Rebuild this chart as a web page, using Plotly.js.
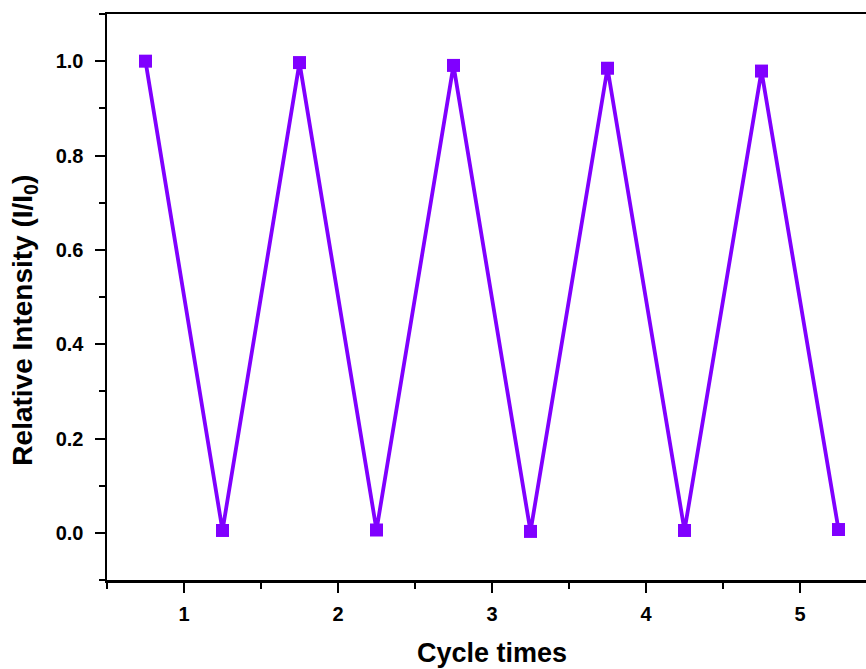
<!DOCTYPE html>
<html>
<head>
<meta charset="utf-8">
<script src="https://cdn.plot.ly/plotly-3.0.1.min.js"></script>
<style>
html,body{margin:0;padding:0;overflow:hidden;background:#fff;}
#chart{width:877px;height:669px;}
</style>
</head>
<body>
<div id="chart"></div>
<script>
const cycleX = [0.75, 1.25, 1.75, 2.25, 2.75, 3.25, 3.75, 4.25, 4.75, 5.25];
const relIntensity = [1.000, 0.005, 0.997, 0.006, 0.991, 0.003, 0.985, 0.005, 0.979, 0.007];
const xTicks = [1, 2, 3, 4, 5];
const yTicks = [0.0, 0.2, 0.4, 0.6, 0.8, 1.0];
const yTickText = ['0.0', '0.2', '0.4', '0.6', '0.8', '1.0'];
const xTitle = 'Cycle times';
const yTitle = 'Relative Intensity (I/I<sub>0</sub>)';

const purple = '#8000ff';
const fontFam = 'Liberation Sans, Arial, sans-serif';

const trace = {
  x: cycleX,
  y: relIntensity,
  mode: 'lines+markers',
  type: 'scatter',
  line: {color: purple, width: 3.8},
  marker: {symbol: 'square', size: 13, color: purple, line: {width: 0}},
  showlegend: false
};

const layout = {
  width: 877,
  height: 669,
  margin: {l: 107, r: 0, t: 14, b: 89},
  paper_bgcolor: '#fff',
  plot_bgcolor: '#fff',
  font: {family: fontFam, color: '#000'},
  xaxis: {
    range: [0.5, 5.5],
    tickvals: xTicks,
    ticktext: xTicks.map(String),
    ticks: 'outside',
    ticklen: 10,
    tickwidth: 2,
    tickcolor: '#000',
    minor: {dtick: 0.5, tick0: 0.5, ticks: 'outside', ticklen: 6, tickwidth: 2, tickcolor: '#000'},
    showline: true,
    linewidth: 2.5,
    linecolor: '#000',
    mirror: true,
    showgrid: false,
    zeroline: false,
    tickfont: {family: fontFam, size: 20, color: '#000', weight: 'bold'},
    ticklabelstandoff: 4,
    title: {text: '<b>' + xTitle + '</b>', font: {family: fontFam, size: 27, color: '#000'}, standoff: 20}
  },
  yaxis: {
    range: [-0.1, 1.1],
    tickvals: yTicks,
    ticktext: yTickText,
    ticks: 'outside',
    ticklen: 10,
    tickwidth: 2,
    tickcolor: '#000',
    minor: {dtick: 0.1, tick0: -0.1, ticks: 'outside', ticklen: 6, tickwidth: 2, tickcolor: '#000'},
    showline: true,
    linewidth: 2.5,
    linecolor: '#000',
    mirror: true,
    showgrid: false,
    zeroline: false,
    tickfont: {family: fontFam, size: 20, color: '#000', weight: 'bold'},
    ticklabelstandoff: 7
  },
  annotations: [{
    text: '<b>' + yTitle + '</b>',
    textangle: -90,
    xref: 'paper', yref: 'paper',
    x: -0.1065, y: 0.46,
    xanchor: 'center', yanchor: 'middle',
    showarrow: false,
    font: {family: fontFam, size: 28, color: '#000'}
  }]
};

Plotly.newPlot('chart', [trace], layout, {displayModeBar: false, staticPlot: true});
</script>
</body>
</html>
